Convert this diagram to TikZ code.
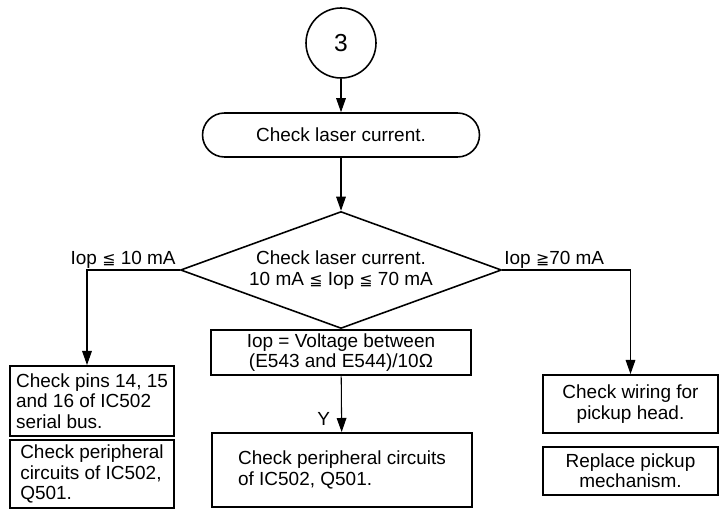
\documentclass[tikz,border=0pt]{standalone}
\usepackage{fontspec}
\setmainfont{Liberation Sans}
\newfontfamily\symfont{DejaVu Sans}
\newcommand{\lesym}{{\symfont\fontsize{9}{9}\selectfont ≦}}
\newcommand{\gesym}{{\symfont\fontsize{9}{9}\selectfont ≧}}
\usetikzlibrary{shapes.geometric,arrows.meta,positioning}

\tikzset{
  box/.style={draw, line width=1.1pt, inner sep=2pt},
  outline/.style={draw, line width=0.9pt},
  flow/.style={-{Triangle[length=8pt,width=5.5pt]}, line width=0.6pt},
}

\begin{document}
\begin{tikzpicture}[x=0.02cm, y=-0.02cm, font=\fontsize{10.8}{11.6}\selectfont]
    \useasboundingbox (0,0) rectangle (719,509);

    % Start connector and first check
    \node[outline, circle, minimum size=1.4cm, inner sep=0] (start) at (341,43) {\fontsize{14}{14}\selectfont 3};
    \node[outline, rounded corners=0.44cm, minimum width=5.54cm, minimum height=0.88cm] (laser) at (341,135) {Check laser current.};

    % Decision
    \node[outline, diamond, aspect=2.74, inner sep=0, minimum width=6.42cm, minimum height=2.34cm, align=center] (check) at (341,270) {Check laser current.\\10 mA \lesym\ Iop \lesym\ 70 mA};
    \node[box, anchor=north, minimum width=5.2cm, minimum height=0.8cm, align=center] (volt) at (check.south) {Iop = Voltage between\\(E543 and E544)/10Ω};
    \node[box, minimum width=5.2cm, minimum height=1.48cm, align=left] (periph) at (342,470) {Check peripheral circuits\\of IC502, Q501.};

    % Low current branch
    \node[box, minimum width=3.28cm, minimum height=1.4cm, align=left] (pins) at (92,401) {Check pins 14, 15\\and 16 of IC502\\serial bus.};
    \node[box, minimum width=3.28cm, minimum height=1.36cm, align=left] (lperiph) at (92,474) {Check peripheral\\circuits of IC502,\\Q501.};

    % High current branch
    \node[box, minimum width=3.5cm, minimum height=1.16cm, align=center] (wiring) at (630.5,404) {Check wiring for\\pickup head.};
    \node[box, minimum width=3.5cm, minimum height=0.96cm, align=center] (replace) at (630.5,471) {Replace pickup\\mechanism.};

    % Connectors
    \draw[flow] (start) -- (laser);
    \draw[flow] (laser) -- (check);
    \draw[flow] (volt) -- (periph) node[pos=0.77, left=3pt] (yes) {Y};
    \coordinate (lturn) at (87,270);
    \draw[flow] (check.west) -- (lturn) -- (lturn |- pins.north);
    \draw[flow] (check.east) -| (wiring.north);

    % Branch labels
    \node[anchor=base east, inner sep=0] (lowlbl) at (176,265) {Iop \lesym\ 10 mA};
    \node[anchor=base west, inner sep=0] (highlbl) at (504,265) {Iop \gesym 70 mA};
\end{tikzpicture}
\end{document}
